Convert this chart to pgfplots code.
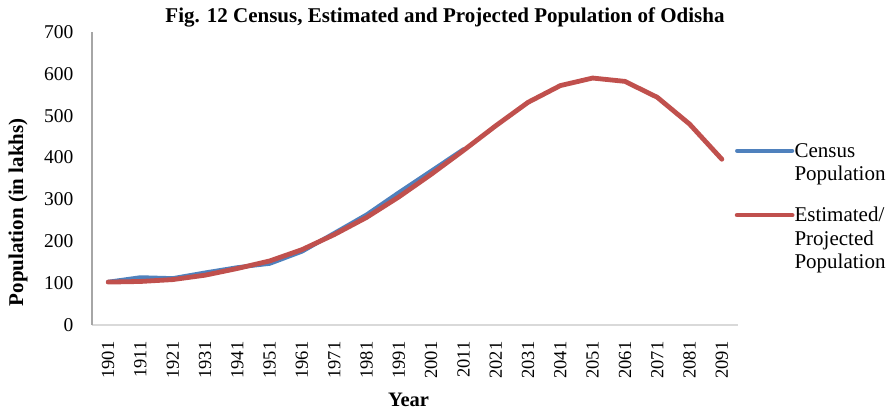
\documentclass[border=0pt]{standalone}
\usepackage{fontspec}
\setmainfont{Liberation Serif}
\usepackage{pgfplots}
\pgfplotsset{compat=1.18}

\definecolor{censusblue}{HTML}{4F81BD}
\definecolor{projred}{HTML}{C0504D}
\definecolor{axisgrey}{HTML}{A6A6A6}
\definecolor{axislight}{HTML}{D9D9D9}

\begin{document}
\begin{tikzpicture}[x=1pt,y=1pt]
\path[use as bounding box] (0,0) rectangle (890,412);
\begin{axis}[
  at={(92pt,87pt)}, anchor=south west,
  scale only axis,
  width=646pt, height=293pt,
  xmin=-0.5, xmax=19.5,
  ymin=0, ymax=700,
  ytick={0,100,...,700},
  xtick={0,...,19},
  xticklabels={1901,1911,1921,1931,1941,1951,1961,1971,1981,1991,2001,2011,2021,2031,2041,2051,2061,2071,2081,2091},
  x tick label style={rotate=90, anchor=east, xshift=-13pt,
    font=\fontsize{18.5}{20}\selectfont},
  y tick label style={font=\fontsize{19.5}{21}\selectfont, xshift=-15pt},
  /pgf/number format/assume math mode=true,
  major tick length=0pt,
  axis x line*=bottom, axis y line*=left,
  x axis line style={axislight, line width=1.2pt, -},
  y axis line style={axisgrey, line width=1.2pt, -},
  title={Fig. 12 Census, Estimated and Projected Population of Odisha},
  title style={at={(0.5464,1)}, anchor=center, yshift=9pt,
    font=\bfseries\fontsize{21}{23}\selectfont},
  xlabel={Year},
  xlabel style={at={(axis description cs:0.49,0)}, anchor=center, yshift=-75pt,
    font=\bfseries\fontsize{20.5}{22}\selectfont},
  ylabel={Population (in lakhs)},
  ylabel style={at={(axis description cs:-0.1145,0.385)}, anchor=center, rotate=0,
    font=\bfseries\fontsize{21}{23}\selectfont},
  legend style={at={(axis description cs:0.99,0.635)}, anchor=north west, draw=none, fill=none,
    font=\fontsize{21}{23.5}\selectfont,
    nodes={align=left, inner xsep=0pt, inner ysep=2pt},
    row sep=21pt},
  legend cell align=left,
  clip=false,
]
% Census counts 1901-2011
\addplot[censusblue, line width=4.2pt, line join=round, line cap=round,
  legend image code/.code={\draw[censusblue, line width=4.2pt, line cap=round] (0pt,11.75pt) -- (55pt,11.75pt);}]
  coordinates {
  (0,103.0) (1,113.8) (2,111.6) (3,125.1) (4,137.7) (5,146.5)
  (6,175.5) (7,219.5) (8,263.7) (9,316.6) (10,368.0) (11,419.7)
};
\addlegendentry{Census\\Population}
% Estimated (1901-2011) and projected (2021-2091) values
\addplot[projred, line width=4.8pt, line join=round, line cap=round,
  legend image code/.code={\draw[projred, line width=4.8pt, line cap=round] (0pt,23.5pt) -- (55pt,23.5pt);}]
  coordinates {
  (0,102.5) (1,104.0) (2,108.5) (3,119.0) (4,135.0) (5,153.0)
  (6,180.0) (7,216.0) (8,257.0) (9,306.0) (10,360.0) (11,417.0)
  (12,476.0) (13,532.0) (14,572.0) (15,590.0) (16,582.0) (17,544.0)
  (18,480.0) (19,396.0)
};
\addlegendentry{Estimated/\\Projected\\Population}
\end{axis}
\end{tikzpicture}
\end{document}
